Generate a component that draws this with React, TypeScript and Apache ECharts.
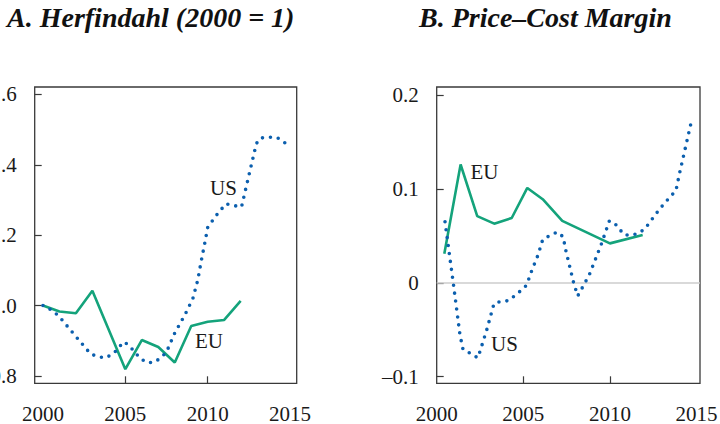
import React, { useEffect, useRef } from "react";
import * as echarts from "echarts";

// Panel A: Herfindahl (2000 = 1)
const usAYears = [2000, 2000.6, 2001.0, 2002.0, 2002.9, 2003.4, 2003.8, 2004.3, 2004.9, 2005.2, 2005.9, 2006.3, 2006.7, 2007.1, 2007.5, 2008.0, 2008.6, 2009.1, 2009.4, 2009.6, 2009.8, 2010.0, 2010.5, 2011.1, 2011.6, 2012.05, 2012.3, 2012.6, 2012.95, 2013.2, 2013.7, 2014.2, 2014.6, 2015.0];
const usAValues = [1.0, 0.985, 0.968, 0.912, 0.862, 0.854, 0.851, 0.864, 0.897, 0.888, 0.85, 0.838, 0.838, 0.849, 0.868, 0.922, 0.972, 1.02, 1.073, 1.125, 1.172, 1.222, 1.255, 1.289, 1.284, 1.28, 1.33, 1.39, 1.46, 1.476, 1.478, 1.478, 1.465, 1.452];
const euAYears = [2000, 2001, 2002, 2003, 2005, 2006, 2007, 2008, 2009, 2010, 2011, 2012];
const euAValues = [1.0, 0.983, 0.978, 1.042, 0.819, 0.902, 0.882, 0.838, 0.942, 0.954, 0.959, 1.013];

// Panel B: Price–Cost Margin
const usBYears = [2000.48, 2000.98, 2001.34, 2001.52, 2001.94, 2002.37, 2002.5, 2002.89, 2003.31, 2003.69, 2004.15, 2004.85, 2005.19, 2005.5, 2005.85, 2006.12, 2006.5, 2006.96, 2007.3, 2007.46, 2007.9, 2008.14, 2008.37, 2008.81, 2009.5, 2009.96, 2010.21, 2010.83, 2011.24, 2011.69, 2012.04, 2012.31, 2012.89, 2013.5, 2013.81, 2014.0, 2014.73];
const usBValues = [0.065, -0.0035, -0.055, -0.071, -0.075, -0.08, -0.073, -0.05, -0.022, -0.02, -0.019, -0.0085, -0.0025, 0.0136, 0.0296, 0.046, 0.05, 0.054, 0.049, 0.034, 0.0004, -0.014, -0.0064, 0.0085, 0.041, 0.0655, 0.0648, 0.051, 0.0507, 0.053, 0.058, 0.0648, 0.079, 0.092, 0.098, 0.115, 0.174];
const euBYears = [2000.44, 2001.38, 2002.34, 2003.32, 2004.33, 2005.23, 2006.12, 2007.25, 2010.0, 2011.89];
const euBValues = [0.031, 0.126, 0.071, 0.063, 0.069, 0.101, 0.089, 0.066, 0.042, 0.051];

const xTickLabels = [2000, 2005, 2010, 2015];
const xTickMarks = [2005, 2010];
const yTicksA = [0.8, 1.0, 1.2, 1.4, 1.6];
const yTicksB = [-0.1, 0, 0.1, 0.2];

const US_COLOR = "#0b5fae";
const EU_COLOR = "#14a37b";
const FONT = "Liberation Serif";
const TEXT = "#1a1a1a";
const BORDER = "#3a3a3a";

const pairs = (xs: number[], ys: number[]) => xs.map((x, i) => [x, ys[i]]);

export default function App() {
  const ref = useRef<HTMLDivElement>(null);
  useEffect(() => {
    if (!ref.current) return;
    const chart = echarts.init(ref.current, null, { renderer: "svg" });
    const xAxisBase = (min: number, max: number, gridIndex: number) => ({
      type: "value",
      gridIndex,
      min,
      max,
      position: "bottom",
      axisLine: { show: false, onZero: false },
      splitLine: { show: false },
      axisTick: { show: true, inside: true, length: 7, customValues: xTickMarks, lineStyle: { color: BORDER, width: 1.2 } },
      axisLabel: { customValues: xTickLabels, margin: 20, color: TEXT, fontFamily: FONT, fontSize: 21, formatter: (v: number) => String(Math.round(v)) },
    });
    const yAxisBase = (min: number, max: number, gridIndex: number, ticks: number[], fmt: (v: number) => string) => ({
      type: "value",
      gridIndex,
      min,
      max,
      position: "left",
      axisLine: { show: false, onZero: false },
      splitLine: { show: false },
      axisTick: { show: true, inside: true, length: 7, customValues: ticks, lineStyle: { color: BORDER, width: 1.2 } },
      axisLabel: { customValues: ticks, margin: 18, color: TEXT, fontFamily: FONT, fontSize: 21, formatter: fmt },
    });
    const dotted = { color: US_COLOR, width: 3.6, type: [0, 8], cap: "round" };
    const titleStyle = { fontFamily: FONT, fontSize: 28, fontWeight: "bold", fontStyle: "italic", color: "#111" };
    chart.setOption({
      animation: false,
      backgroundColor: "#ffffff",
      textStyle: { fontFamily: FONT },
      title: [
        { text: "A. Herfindahl (2000 = 1)", left: 7, top: 3, padding: 0, textStyle: titleStyle },
        { text: "B. Price–Cost Margin", left: 419, top: 3, padding: 0, textStyle: titleStyle },
      ],
      grid: [
        { left: 34.7, width: 262, top: 87, bottom: 40.7, show: true, borderColor: BORDER, borderWidth: 1.3, backgroundColor: "transparent", outerBoundsMode: "none", containLabel: false },
        { left: 436.7, width: 263.3, top: 87, bottom: 40.7, show: true, borderColor: BORDER, borderWidth: 1.3, backgroundColor: "transparent", outerBoundsMode: "none", containLabel: false },
      ],
      xAxis: [xAxisBase(1999.5, 2015.4, 0), xAxisBase(2000, 2015.2, 1)],
      yAxis: [
        yAxisBase(0.779, 1.621, 0, yTicksA, (v: number) => v.toFixed(1)),
        yAxisBase(-0.107, 0.2085, 1, yTicksB, (v: number) => (Math.abs(v) < 1e-9 ? "0" : String(Math.round(v * 10) / 10).replace("-", "–"))),
      ],
      series: [
        { type: "line", name: "US", xAxisIndex: 0, yAxisIndex: 0, data: pairs(usAYears, usAValues), showSymbol: false, lineStyle: dotted, z: 3 },
        { type: "line", name: "EU", xAxisIndex: 0, yAxisIndex: 0, data: pairs(euAYears, euAValues), showSymbol: false, lineStyle: { color: EU_COLOR, width: 2.6 }, z: 2 },
        {
          type: "line", name: "EU", xAxisIndex: 1, yAxisIndex: 1, data: pairs(euBYears, euBValues), showSymbol: false, lineStyle: { color: EU_COLOR, width: 2.6 }, z: 2,
          markLine: { silent: true, symbol: "none", label: { show: false }, lineStyle: { color: "#cccccc", type: "solid", width: 1.5 }, data: [{ yAxis: 0 }], z: 1 },
        },
        { type: "line", name: "US", xAxisIndex: 1, yAxisIndex: 1, data: pairs(usBYears, usBValues), showSymbol: false, lineStyle: dotted, z: 3 },
      ],
      graphic: [
        { type: "text", x: 223.5, y: 188, style: { text: "US", font: `21px "${FONT}"`, fill: TEXT, align: "center", verticalAlign: "middle" } },
        { type: "text", x: 209, y: 341, style: { text: "EU", font: `21px "${FONT}"`, fill: TEXT, align: "center", verticalAlign: "middle" } },
        { type: "text", x: 484.5, y: 172, style: { text: "EU", font: `21px "${FONT}"`, fill: TEXT, align: "center", verticalAlign: "middle" } },
        { type: "text", x: 504.5, y: 344, style: { text: "US", font: `21px "${FONT}"`, fill: TEXT, align: "center", verticalAlign: "middle" } },
      ],
    });
    return () => chart.dispose();
  }, []);
  return <div ref={ref} style={{ position: "fixed", left: 0, top: 0, width: 720, height: 424 }} />;
}
